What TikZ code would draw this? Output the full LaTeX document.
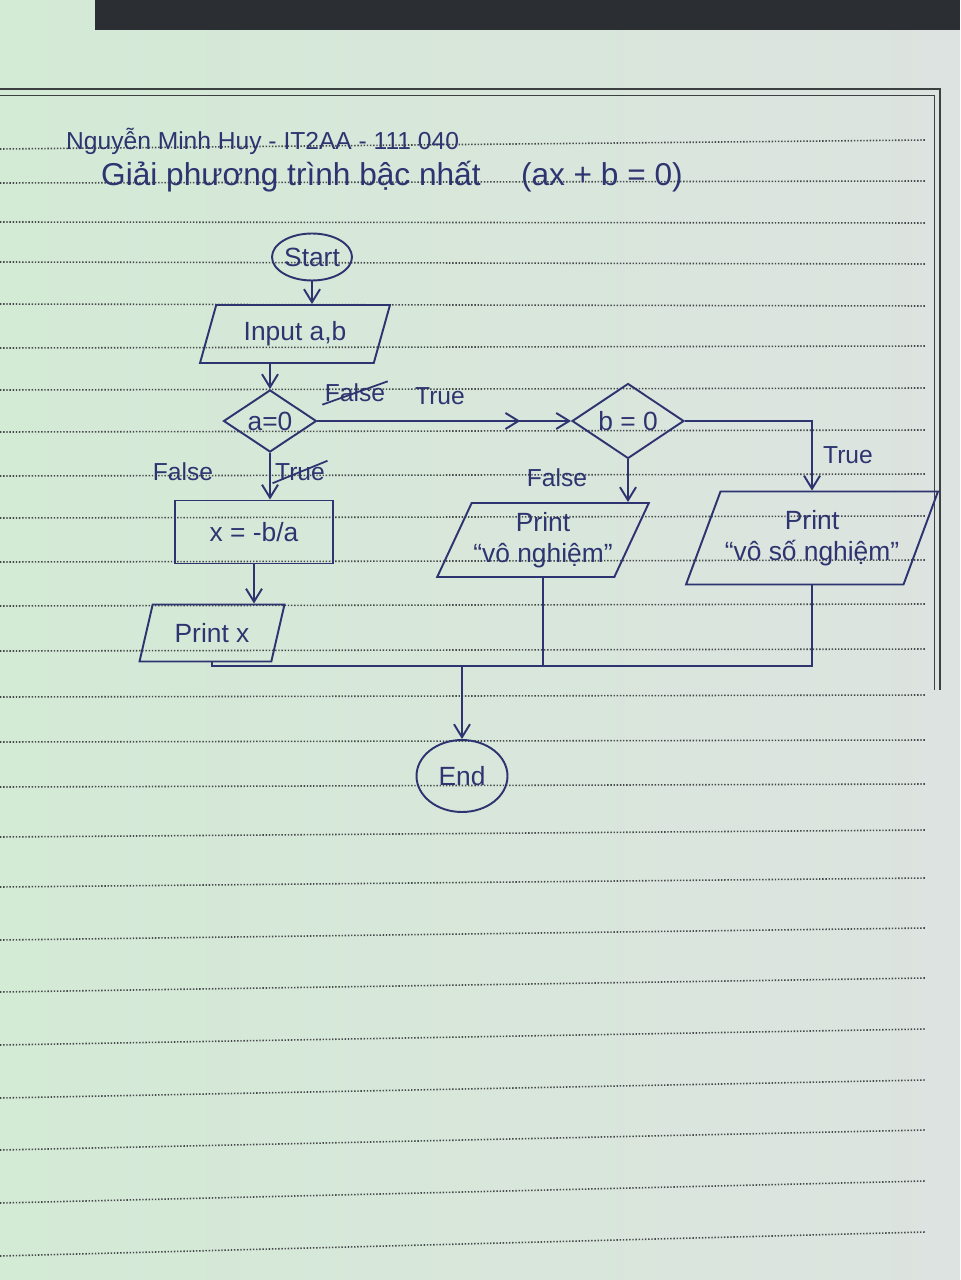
\documentclass[tikz,border=0pt]{standalone}
\usepackage{fontspec}
\setmainfont{Liberation Sans}
\usetikzlibrary{shapes.geometric,shapes.misc,arrows.meta,decorations.markings}
\definecolor{ink}{HTML}{2E3470}
\definecolor{paperL}{HTML}{D3EAD5}
\definecolor{paperR}{HTML}{DDE3E0}
\definecolor{ruleDot}{HTML}{45494A}
\definecolor{frameLine}{HTML}{3C4040}
\definecolor{vent}{HTML}{2B2F34}

\begin{document}
\begin{tikzpicture}[x=0.02cm, y=-0.02cm,
  inkline/.style={draw=ink, line width=1.1pt},
  flow/.style={inkline, -{Straight Barb[length=2.6mm, width=3.2mm]}},
  midarrow/.style={postaction={decorate}, decoration={markings,
    mark=at position 0.8 with {\arrow{Straight Barb[length=2.6mm, width=3.2mm]}}}},
  boxtext/.style={text=ink, font=\fontsize{15}{18}\selectfont, align=center},
  terminal/.style={ellipse, inkline, boxtext, inner sep=0pt},
  iobox/.style={trapezium, trapezium left angle=60, trapezium right angle=120,
    trapezium stretches body, inkline, boxtext, inner sep=1pt},
  procbox/.style={rectangle, inkline, boxtext},
  decision/.style={diamond, aspect=1.5, inkline, boxtext, inner sep=0pt},
  lbl/.style={text=ink, font=\fontsize{14}{16}\selectfont},
  struck/.style={lbl, strike out, draw=ink, line width=1pt, inner sep=1pt}]
  \useasboundingbox (0,0) rectangle (960,1280);
  \shade[left color=paperL, right color=paperR] (0,0) rectangle (960,1280);
  \fill[vent] (95,0) rectangle (960,30);
  \draw[frameLine, line width=0.9pt] (0,89) -- (940,89) -- (940,690);
  \draw[frameLine, line width=0.5pt] (0,95) -- (934,95) -- (934,690);
  \foreach \yl/\yr in {149/140, 183/181, 222/223, 262/264, 304/306, 348/346,
    390/388, 432/430, 476/474, 518/516, 562/560, 606/604, 651/649, 697/695,
    742/740, 787/784, 837/830, 887/878, 940/928, 992/978, 1045/1029,
    1098/1080, 1150/1130, 1203/1181, 1256/1232}
    \draw[ruleDot, line width=0.9pt, dash pattern=on 0.8pt off 1pt] (0,\yl) -- (925,\yr);

  \node[lbl, anchor=base west, font=\fontsize{14}{17}\selectfont] (author) at (60,150) {Nguyễn Minh Huy - IT2AA - 111 040};
  \node[lbl, anchor=base west, font=\fontsize{18}{21}\selectfont] (title) at (95,186) {Giải phương trình bậc nhất \quad (ax + b = 0)};

  \node[terminal, minimum width=1.6cm, minimum height=0.94cm] (start) at (312,257) {Start};
  \node[iobox, minimum width=3.8cm, minimum height=1.16cm] (input) at (295,334) {Input a,b};
  \node[decision, minimum width=1.86cm, minimum height=1.24cm] (a0) at (270,421) {a=0};
  \node[decision, minimum width=2.24cm, minimum height=1.5cm] (b0) at (628,421) {b = 0};
  \node[procbox, minimum width=3.16cm, minimum height=1.26cm] (calc) at (254,532) {x = -b/a};
  \node[iobox, minimum width=2.9cm, minimum height=1.14cm] (printx) at (212,633) {Print x};
  \node[iobox, minimum width=3.86cm, minimum height=1.48cm] (vn) at (543,540) {Print\\“vô nghiệm”};
  \node[iobox, minimum width=5.04cm, minimum height=1.86cm] (vsn) at (812,538) {Print\\“vô số nghiệm”};
  \node[terminal, minimum width=1.82cm, minimum height=1.44cm] (end) at (462,776) {End};
  \coordinate (join) at (462,666);

  \node[struck] (oldfalse) at (355,393) {False};
  \node[lbl] (atrue) at (440,396) {True};
  \node[lbl] (afalse) at (183,472) {False};
  \node[struck] (oldtrue) at (300,472) {True};
  \node[lbl] (bfalse) at (557,478) {False};
  \node[lbl] (btrue) at (848,455) {True};

  \draw[flow] (start.south) -- (start.south |- input.north);
  \draw[flow] (a0.north |- input.south) -- (a0.north);
  \draw[flow, midarrow] (a0.east) -- (b0.west);
  \draw[flow] (b0.east) -| (vsn.north);
  \draw[flow] (b0.south) -- (b0.south |- vn.north);
  \draw[flow] (a0.south) -- (a0.south |- calc.north);
  \draw[flow] (calc.south) -- (calc.south |- printx.north);
  \draw[inkline] (printx.south) |- (join);
  \draw[inkline] (vn.south) |- (join);
  \draw[inkline] (vsn.south) |- (join);
  \draw[flow] (join) -- (end.north);
\end{tikzpicture}
\end{document}
